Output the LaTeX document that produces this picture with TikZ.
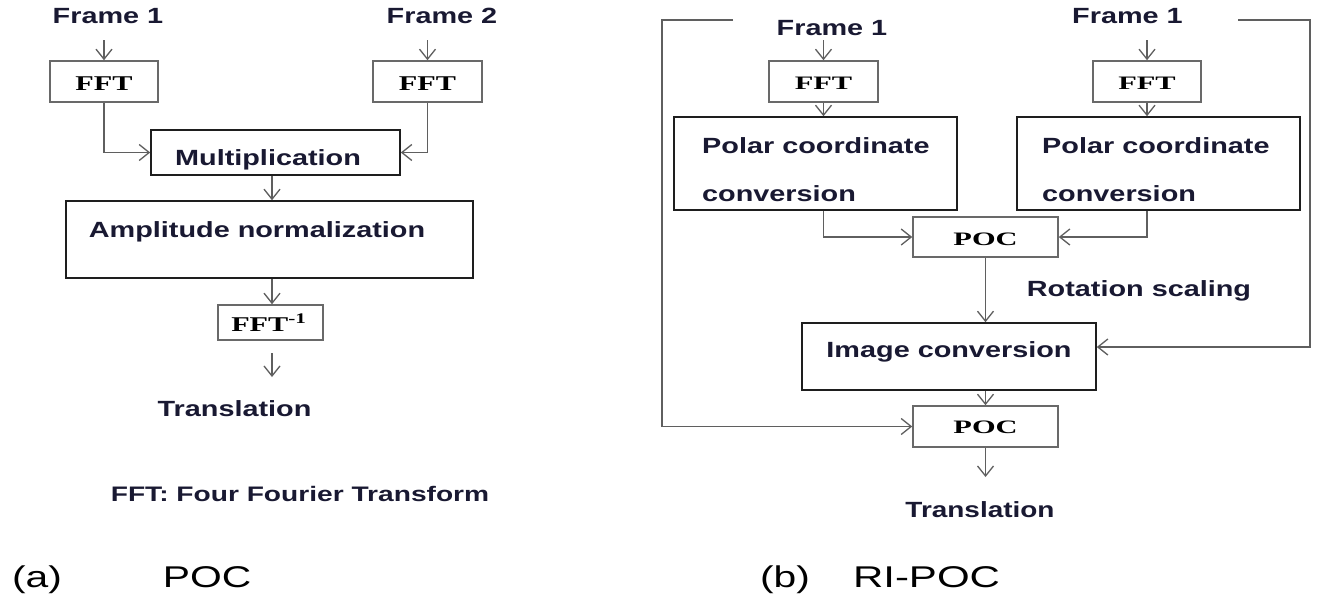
\documentclass[tikz,border=0pt]{standalone}
\usepackage{fontspec}
\setmainfont{Liberation Sans}
\newfontfamily\tmsfont{Liberation Serif}
\usetikzlibrary{arrows.meta,calc}
\definecolor{txt}{RGB}{25,25,50}
\definecolor{conn}{RGB}{95,95,95}
\definecolor{lbox}{RGB}{105,105,105}
\definecolor{dbox}{RGB}{30,30,30}
\newcommand\stretchS[1]{\scalebox{1.31}[1]{#1}}
\newcommand\stretchF[1]{\scalebox{1.44}[1]{#1}}
\newcommand\stretchG[1]{\scalebox{1.6}[1]{#1}}
\begin{document}
\begin{tikzpicture}[x=1pt,y=-1pt,
  conn/.style={draw=conn, line width=1.3pt},
  arr/.style={conn, -{Straight Barb[length=10pt,width=16pt,line width=1.3pt]}},
  lightbox/.style={draw=lbox, line width=1.6pt, inner sep=0pt},
  darkbox/.style={draw=dbox, line width=1.6pt, inner sep=0pt},
  sb/.style={font=\fontsize{22}{26}\selectfont\bfseries, text=txt, inner sep=0pt, anchor=base},
  ser/.style={font=\tmsfont\bfseries\fontsize{19}{22}\selectfont, text=black, inner sep=0pt, anchor=base},
  serL/.style={font=\tmsfont\bfseries\fontsize{21}{24}\selectfont, text=black, inner sep=0pt, anchor=base},
  captext/.style={font=\fontsize{30}{34}\selectfont, text=black, inner sep=0pt, anchor=base}]
\useasboundingbox (0,0) rectangle (1322,600);
\fill[white] (0,0) rectangle (1322,600);

% ---------------- (a) POC ----------------
\node[sb] (lf1) at (108,23) {\stretchS{Frame 1}};
\node[sb] (lf2) at (442,23) {\stretchS{Frame 2}};
\node[lightbox, minimum width=108pt, minimum height=41pt] (lfft1) at (104,81.5) {};
\node[serL] (lfft1t) at (104,90) {\stretchF{FFT}};
\node[lightbox, minimum width=109pt, minimum height=41pt] (lfft2) at (427.5,81.5) {};
\node[serL] (lfft2t) at (427.5,90) {\stretchF{FFT}};
\coordinate (lf1a) at (104,40);
\coordinate (lf2a) at (427.5,40);
\draw[arr] (lf1a) -- (lfft1.north);
\draw[arr] (lf2a) -- (lfft2.north);

\node[darkbox, minimum width=249pt, minimum height=45pt] (mult) at (275.5,152.5) {};
\node[sb] (multt) at (268,165) {\stretchS{Multiplication}};
\draw[arr] (lfft1.south) -- (lfft1.south |- mult.west) -- (mult.west);
\draw[arr] (lfft2.south) -- (lfft2.south |- mult.east) -- (mult.east);

\node[darkbox, minimum width=407pt, minimum height=77pt] (amp) at (269.5,239.5) {};
\node[sb] (ampt) at (257,237) {\stretchS{Amplitude normalization}};
\draw[arr] (mult.south -| 272,0) -- (amp.north -| 272,0);

\node[lightbox, minimum width=105pt, minimum height=35pt] (ifft) at (270.5,322.5) {};
\node[serL] (ifftt) at (269,331) {\stretchF{FFT\textsuperscript{-1}}};
\draw[arr] (amp.south -| 272,0) -- (ifft.north -| 272,0);
\coordinate (lo1) at (272,353);
\coordinate (lo2) at (272,377);
\draw[arr] (lo1) -- (lo2);
\node[sb] (ltr) at (234.5,416) {\stretchS{Translation}};
\node[sb, font=\fontsize{21}{25}\selectfont\bfseries] (note) at (300,501) {\scalebox{1.34}[1]{FFT: Four Fourier Transform}};
\node[captext] (capa) at (37,587) {\scalebox{1.36}[1]{(a)}};
\node[captext] (capap) at (207,587) {\scalebox{1.36}[1]{POC}};

% ---------------- (b) RI-POC ----------------
\node[sb] (rf1) at (832,35) {\stretchS{Frame 1}};
\node[sb] (rf2) at (1127.5,23) {\stretchS{Frame 1}};
\node[lightbox, minimum width=109pt, minimum height=41pt] (rfft1) at (823.5,81.5) {};
\node[ser] (rfft1t) at (823.5,89) {\stretchG{FFT}};
\node[lightbox, minimum width=108pt, minimum height=41pt] (rfft2) at (1147,81.5) {};
\node[ser] (rfft2t) at (1147,89) {\stretchG{FFT}};
\coordinate (rf1a) at (823.5,40);
\coordinate (rf2a) at (1147,40);
\draw[arr] (rf1a) -- (rfft1.north);
\draw[arr] (rf2a) -- (rfft2.north);

\node[darkbox, minimum width=283pt, minimum height=93pt] (pol1) at (815.5,163.5) {};
\node[sb, anchor=base west] (pol1a) at (702,153) {\stretchS{Polar coordinate}};
\node[sb, anchor=base west] (pol1b) at (702,201) {\stretchS{conversion}};
\node[darkbox, minimum width=283pt, minimum height=93pt] (pol2) at (1158.5,163.5) {};
\node[sb, anchor=base west] (pol2a) at (1042,153) {\stretchS{Polar coordinate}};
\node[sb, anchor=base west] (pol2b) at (1042,201) {\stretchS{conversion}};
\draw[arr] (rfft1.south) -- (rfft1.south |- pol1.north);
\draw[arr] (rfft2.south) -- (rfft2.south |- pol2.north);

\node[lightbox, minimum width=145pt, minimum height=40pt] (poc1) at (985.5,237) {};
\node[ser] (poc1t) at (985.5,245) {\stretchG{POC}};
\draw[arr] (rfft1.south |- pol1.south) -- (rfft1.south |- poc1.west) -- (poc1.west);
\draw[arr] (rfft2.south |- pol2.south) -- (rfft2.south |- poc1.east) -- (poc1.east);

\node[sb] (rot) at (1139,296) {\stretchS{Rotation scaling}};
\node[darkbox, minimum width=294pt, minimum height=67pt] (img) at (949,356.5) {};
\node[sb] (imgt) at (949,357) {\stretchS{Image conversion}};
\draw[arr] (poc1.south) -- (poc1.south |- img.north);

\node[lightbox, minimum width=145pt, minimum height=41pt] (poc2) at (985.5,426.5) {};
\node[ser] (poc2t) at (985.5,433) {\stretchG{POC}};
\draw[arr] (poc2.north |- img.south) -- (poc2.north);
\coordinate (ro1) at (985.5,477);
\draw[arr] (poc2.south) -- (ro1);

\coordinate (tl1) at (733,20);
\coordinate (tl2) at (662,20);
\draw[arr] (tl1) -- (tl2) -- (tl2 |- poc2.west) -- (poc2.west);
\coordinate (tr1) at (1238,20);
\coordinate (tr2) at (1310,20);
\draw[arr] (tr1) -- (tr2) -- (tr2 |- 0,347) -- (img.east |- 0,347);

\node[sb] (rtr) at (980,517) {\scalebox{1.27}[1]{Translation}};
\node[captext] (capb) at (785,587) {\scalebox{1.36}[1]{(b)}};
\node[captext] (capbp) at (926.5,587) {\scalebox{1.4}[1]{RI-POC}};
\end{tikzpicture}
\end{document}
